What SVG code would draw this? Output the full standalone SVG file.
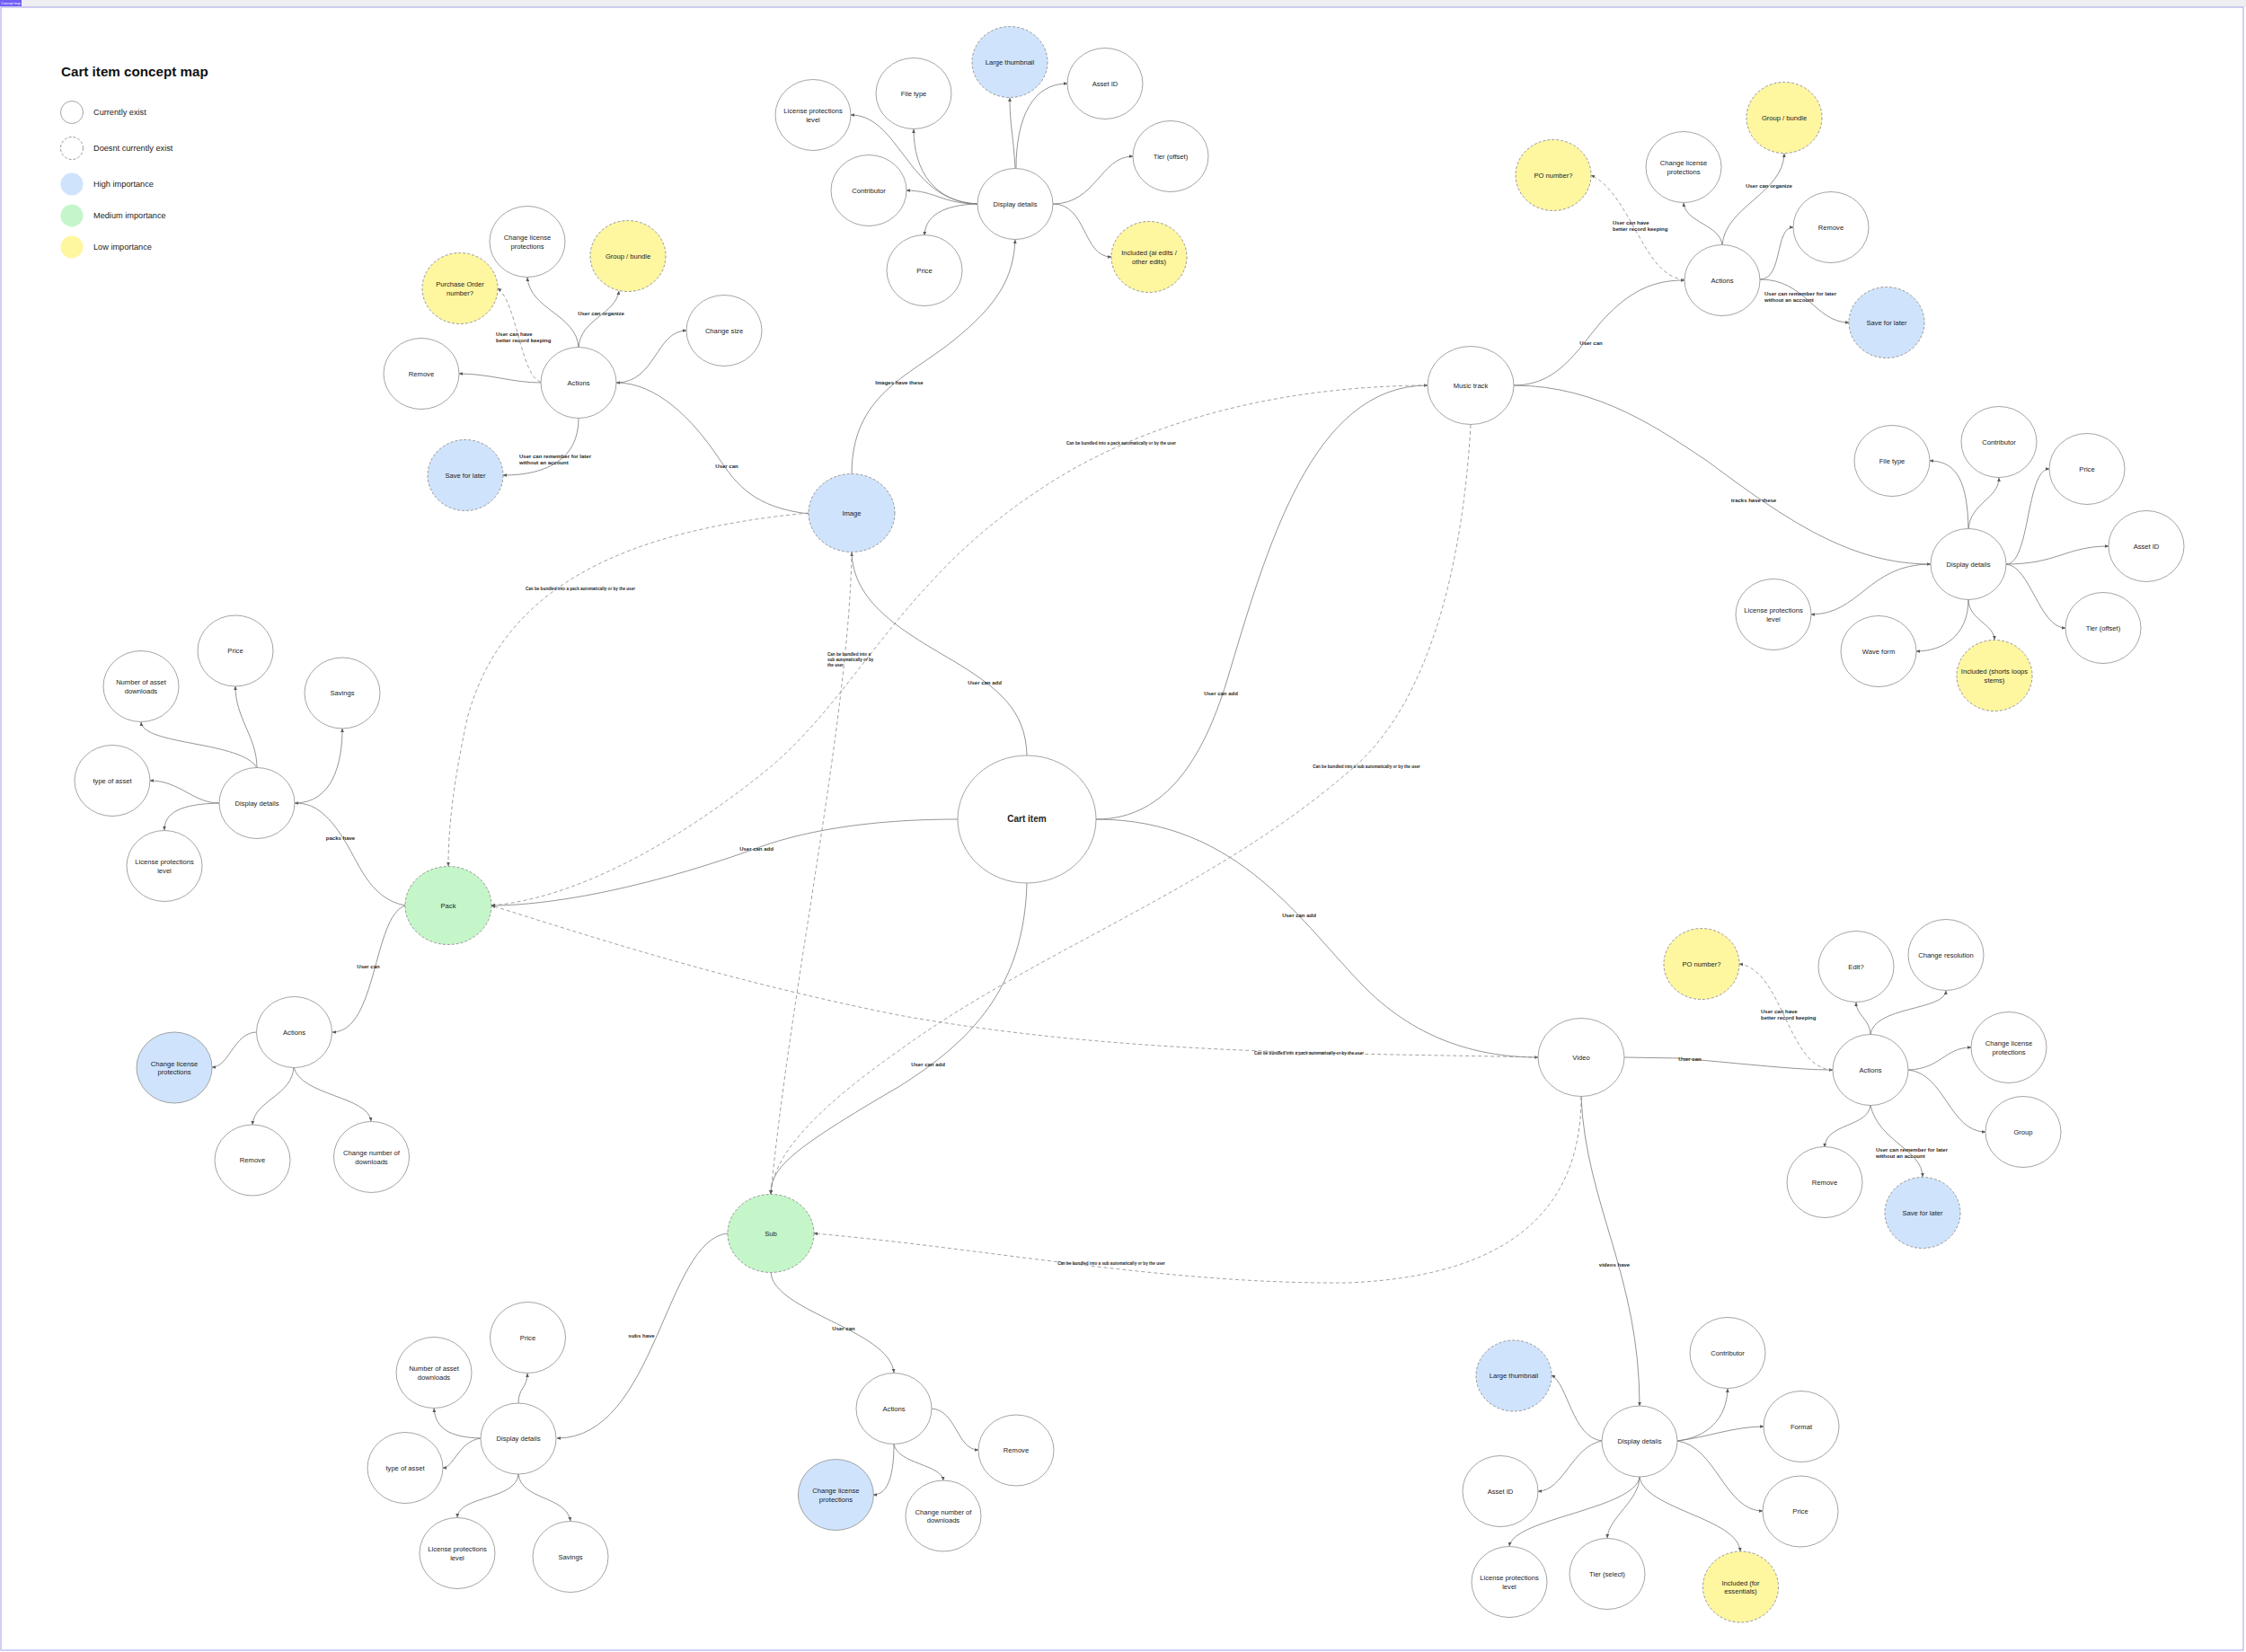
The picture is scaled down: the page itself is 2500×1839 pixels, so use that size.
<svg xmlns="http://www.w3.org/2000/svg" width="2500" height="1839" viewBox="0 0 2500 1839">
<defs>
<marker id="a" viewBox="0 0 6 6" refX="5.6" refY="3" markerWidth="4.5" markerHeight="4.5" orient="auto" markerUnits="userSpaceOnUse"><path d="M0,0.4 L6,3 L0,5.6 z" fill="#5a5a5a"/></marker>
<style>
.n{fill:#fff;stroke:#9a9a9a;stroke-width:0.9}
.d{stroke:#8c8c8c;stroke-dasharray:3 2}
.hi{fill:#cfe3fc}
.med{fill:#c5f6c9}
.low{fill:#fff6a0}
.t{font-family:"Liberation Sans",Arial,sans-serif;font-size:7.6px;fill:#222;text-anchor:middle;dominant-baseline:central}
.big{font-size:10px;font-weight:bold}
.e{fill:none;stroke:#7a7a7a;stroke-width:0.8;marker-end:url(#a)}
.ed{stroke-dasharray:4 3;stroke:#8a8a8a}
.l{font-family:"Liberation Sans",Arial,sans-serif;font-size:6px;font-weight:bold;fill:#2a2a2a;dominant-baseline:central}
.c{text-anchor:middle}
.s{font-size:4.6px}
.lg{font-family:"Liberation Sans",Arial,sans-serif;font-size:9.2px;fill:#222;dominant-baseline:central}
</style>
</defs>
<rect x="0" y="0" width="2500" height="1839" fill="#fff"/>
<rect x="0" y="0" width="2500" height="8" fill="#efeff2"/>
<rect x="1" y="8" width="2496" height="1829" fill="#fff" stroke="#a3a3e8" stroke-width="1"/>
<rect x="0" y="0" width="24" height="7" fill="#6e5ef4"/>
<text x="12" y="4" font-family="Liberation Sans, Arial, sans-serif" font-size="3.6" fill="#fff" text-anchor="middle" dominant-baseline="central">Concept map</text>

<g id="legend">
<text x="68" y="85" font-family="Liberation Sans, Arial, sans-serif" font-size="15.2" font-weight="bold" fill="#111">Cart item concept map</text>
<circle cx="80" cy="125" r="12.5" class="n"/>
<text x="104" y="125" class="lg">Currently exist</text>
<circle cx="80" cy="165" r="12.5" class="n d"/>
<text x="104" y="165" class="lg">Doesnt currently exist</text>
<circle cx="80" cy="205" r="12.5" class="hi"/>
<text x="104" y="205" class="lg">High importance</text>
<circle cx="80" cy="240" r="12.5" class="med"/>
<text x="104" y="240" class="lg">Medium importance</text>
<circle cx="80" cy="275" r="12.5" class="low"/>
<text x="104" y="275" class="lg">Low importance</text>
</g>

<g id="connectors">
<!-- Cart item edges -->
<path class="e" d="M1143,841 C1142,790 1110,765 1060,735 C1000,700 950,670 948,615"/>
<path class="e" d="M1220,912 C1300,912 1340,840 1365,760 C1410,610 1460,429 1589,429"/>
<path class="e" d="M1066,912 C950,912 880,930 840,945 C700,995 600,1008 547,1008"/>
<path class="e" d="M1220,912 C1380,912 1450,1030 1520,1100 C1580,1160 1650,1177 1712,1177"/>
<path class="e" d="M1143,983 C1140,1100 1080,1160 1000,1210 C880,1280 858,1300 858,1329"/>
<!-- dashed bundle edges -->
<path class="e ed" d="M900,571 C700,590 560,650 520,800 C505,870 499,920 499,964"/>
<path class="e ed" d="M948,615 C945,800 880,1100 858,1329"/>
<path class="e ed" d="M1589,429 C1400,430 1250,480 1150,550 C1000,650 950,780 850,860 C750,940 640,1000 547,1008"/>
<path class="e ed" d="M1637,473 C1630,600 1600,780 1500,860 C1350,990 1150,1060 1000,1170 C900,1240 860,1290 858,1329"/>
<path class="e ed" d="M1712,1177 C1500,1172 1250,1175 1000,1130 C800,1090 650,1040 547,1008"/>
<path class="e ed" d="M1760,1221 C1760,1330 1700,1420 1500,1428 C1300,1430 1100,1390 906,1373"/>
<!-- Image -->
<path class="e" d="M948,528 C948,440 1010,420 1060,380 C1110,340 1128,310 1130,267"/>
<path class="e" d="M900,572 C840,565 820,540 800,510 C770,465 730,426 686,426"/>
<path class="e" d="M1130,187 C1128,150 1124,140 1124,109"/>
<path class="e" d="M1131,187 C1131,130 1150,93 1188,93"/>
<path class="e" d="M1088,227 C1040,225 1020,190 1000,165 C985,145 970,128 947,128"/>
<path class="e" d="M1088,227 C1040,225 1017,190 1017,144"/>
<path class="e" d="M1088,227 C1050,227 1040,212 1009,212"/>
<path class="e" d="M1088,227 C1050,228 1030,240 1029,262"/>
<path class="e" d="M1172,227 C1220,227 1225,174 1261,174"/>
<path class="e" d="M1172,227 C1210,227 1205,286 1237,286"/>
<path class="e" d="M644,387 C642,350 590,345 587,309"/>
<path class="e" d="M644,387 C646,355 685,350 689,324"/>
<path class="e ed" d="M602,425 C580,420 575,335 554,321"/>
<path class="e" d="M602,426 C570,426 545,416 511,416"/>
<path class="e" d="M686,426 C730,426 730,368 764,368"/>
<path class="e" d="M644,466 C644,510 610,529 560,529"/>
<!-- Music -->
<path class="e" d="M1685,429 C1740,429 1760,380 1790,350 C1820,320 1845,312 1875,312"/>
<path class="e" d="M1685,429 C1780,429 1850,480 1900,513 C1990,580 2060,628 2149,628"/>
<path class="e ed" d="M1875,311 C1830,310 1815,215 1771,195"/>
<path class="e" d="M1917,273 C1915,250 1876,248 1874,226"/>
<path class="e" d="M1917,273 C1920,230 1985,215 1986,171"/>
<path class="e" d="M1959,311 C1985,311 1975,253 1996,253"/>
<path class="e" d="M1959,311 C2010,311 2020,359 2058,359"/>
<path class="e" d="M2191,589 C2190,540 2180,513 2148,513"/>
<path class="e" d="M2191,589 C2193,560 2225,555 2225,532"/>
<path class="e" d="M2233,628 C2260,628 2255,522 2281,522"/>
<path class="e" d="M2233,628 C2290,628 2300,608 2347,608"/>
<path class="e" d="M2233,628 C2260,630 2270,699 2299,699"/>
<path class="e" d="M2149,628 C2080,628 2070,684 2016,684"/>
<path class="e" d="M2191,667 C2191,710 2160,725 2133,725"/>
<path class="e" d="M2191,667 C2191,690 2220,695 2220,712"/>
<!-- Pack -->
<path class="e" d="M451,1008 C410,1000 400,960 380,930 C360,900 345,894 328,894"/>
<path class="e" d="M451,1008 C415,1020 420,1149 370,1149"/>
<path class="e" d="M286,855 C286,820 262,800 262,764"/>
<path class="e" d="M286,855 C270,825 160,830 157,804"/>
<path class="e" d="M244,894 C215,894 200,869 167,869"/>
<path class="e" d="M244,894 C200,895 183,905 183,924"/>
<path class="e" d="M328,894 C370,894 381,850 381,811"/>
<path class="e" d="M285,1149 C260,1150 255,1188 236,1188"/>
<path class="e" d="M327,1188 C325,1220 283,1225 281,1252"/>
<path class="e" d="M327,1188 C335,1220 410,1220 413,1248"/>
<!-- Sub -->
<path class="e" d="M810,1373 C740,1380 730,1601 620,1601"/>
<path class="e" d="M858,1416 C860,1460 990,1480 995,1528"/>
<path class="e" d="M577,1562 C577,1545 587,1545 587,1529"/>
<path class="e" d="M535,1601 C500,1600 485,1590 483,1568"/>
<path class="e" d="M535,1601 C510,1605 505,1634 493,1634"/>
<path class="e" d="M577,1641 C575,1670 510,1665 509,1689"/>
<path class="e" d="M577,1641 C580,1670 630,1665 635,1693"/>
<path class="e" d="M995,1608 C995,1650 985,1664 972,1664"/>
<path class="e" d="M995,1608 C1000,1630 1048,1630 1050,1648"/>
<path class="e" d="M1037,1568 C1065,1570 1065,1614 1089,1614"/>
<!-- Video -->
<path class="e" d="M1808,1177 L1870,1178 C1950,1185 2000,1191 2040,1191"/>
<path class="e" d="M1760,1221 C1765,1340 1825,1420 1825,1565"/>
<path class="e ed" d="M2040,1191 C1990,1190 1985,1080 1936,1073"/>
<path class="e" d="M2082,1152 C2082,1135 2066,1130 2066,1116"/>
<path class="e" d="M2082,1152 C2085,1120 2165,1125 2166,1103"/>
<path class="e" d="M2124,1191 C2160,1190 2165,1166 2194,1166"/>
<path class="e" d="M2124,1191 C2165,1195 2170,1260 2210,1260"/>
<path class="e" d="M2082,1230 C2080,1255 2032,1250 2031,1277"/>
<path class="e" d="M2082,1230 C2090,1270 2140,1280 2140,1310"/>
<path class="e" d="M1783,1604 C1750,1600 1745,1540 1727,1531"/>
<path class="e" d="M1783,1604 C1750,1610 1740,1660 1712,1660"/>
<path class="e" d="M1867,1604 C1900,1600 1922,1580 1923,1546"/>
<path class="e" d="M1867,1604 C1900,1600 1930,1588 1963,1588"/>
<path class="e" d="M1867,1604 C1910,1610 1920,1682 1962,1682"/>
<path class="e" d="M1825,1644 C1820,1680 1685,1690 1680,1721"/>
<path class="e" d="M1825,1644 C1825,1670 1790,1690 1789,1712"/>
<path class="e" d="M1825,1644 C1830,1680 1935,1690 1937,1727"/>
</g>

<g id="edge-labels">
<text class="l c" x="1001" y="426">Images have these</text>
<text class="l c" x="809" y="519">User can</text>
<text class="l c" x="669" y="349">User can organize</text>
<text class="l" x="552" y="372">User can have<tspan x="552" dy="7.4">better record keeping</tspan></text>
<text class="l" x="578" y="508">User can remember for later<tspan x="578" dy="7.4">without an account</tspan></text>
<text class="l c s" x="646" y="655">Can be bundled into a pack automatically or by the user</text>
<text class="l s" x="921" y="728">Can be bundled into a<tspan x="921" dy="5.8">sub  automatically or by</tspan><tspan x="921" dy="5.8">the user</tspan></text>
<text class="l c" x="1096" y="760">User can add</text>
<text class="l c" x="1359" y="772">User can add</text>
<text class="l c s" x="1248" y="493">Can be bundled into a pack automatically or by the user</text>
<text class="l c s" x="1521" y="853">Can be bundled into a sub  automatically or by the user</text>
<text class="l c" x="842" y="945">User can add</text>
<text class="l c" x="1446" y="1019">User can add</text>
<text class="l c" x="1033" y="1185">User can add</text>
<text class="l c s" x="1457" y="1172">Can be bundled into a pack automatically or by the user</text>
<text class="l c s" x="1237" y="1406">Can be bundled into a sub  automatically or by the user</text>
<text class="l c" x="379" y="933">packs have</text>
<text class="l c" x="410" y="1076">User can</text>
<text class="l c" x="714" y="1487">subs have</text>
<text class="l c" x="939" y="1479">User can</text>
<text class="l c" x="1771" y="382">User can</text>
<text class="l" x="1795" y="248">User can have<tspan x="1795" dy="7.4">better record keeping</tspan></text>
<text class="l c" x="1969" y="207">User can organize</text>
<text class="l" x="1964" y="327">User can remember for later<tspan x="1964" dy="7.4">without an account</tspan></text>
<text class="l c" x="1952" y="557">tracks have these</text>
<text class="l c" x="1881" y="1179">User can</text>
<text class="l" x="1960" y="1126">User can have<tspan x="1960" dy="7.4">better record keeping</tspan></text>
<text class="l" x="2088" y="1280">User can remember for later<tspan x="2088" dy="7.4">without an account</tspan></text>
<text class="l c" x="1797" y="1408">videos have</text>
</g>

<!-- Core nodes -->
<g id="cart-item"><ellipse cx="1143" cy="912" rx="77" ry="71" class="n"/><text x="1143" y="911" class="t big">Cart item</text></g>
<g id="image"><ellipse cx="948" cy="571" rx="48" ry="43.5" class="n d hi"/><text x="948" y="571" class="t">Image</text></g>
<g id="music-track"><ellipse cx="1637" cy="429" rx="48" ry="43.5" class="n"/><text x="1637" y="429" class="t">Music track</text></g>
<g id="pack"><ellipse cx="499" cy="1008" rx="48" ry="43.5" class="n d med"/><text x="499" y="1008" class="t">Pack</text></g>
<g id="sub"><ellipse cx="858" cy="1373" rx="48" ry="43.5" class="n d med"/><text x="858" y="1373" class="t">Sub</text></g>
<g id="video"><ellipse cx="1760" cy="1177" rx="48" ry="43.5" class="n"/><text x="1760" y="1177" class="t">Video</text></g>

<!-- Image display details -->
<g id="img-dd"><ellipse cx="1130" cy="227" rx="42" ry="39.5" class="n"/><text x="1130" y="227" class="t">Display details</text></g>
<g id="img-thumb"><ellipse cx="1124" cy="69" rx="42" ry="39.5" class="n d hi"/><text x="1124" y="69" class="t">Large thumbnail</text></g>
<g id="img-assetid"><ellipse cx="1230" cy="93" rx="42" ry="39.5" class="n"/><text x="1230" y="93" class="t">Asset ID</text></g>
<g id="img-filetype"><ellipse cx="1017" cy="104" rx="42" ry="39.5" class="n"/><text x="1017" y="104" class="t">File type</text></g>
<g id="img-lpl"><ellipse cx="905" cy="128" rx="42" ry="39.5" class="n"/><text x="905" y="123.5" class="t">License protections<tspan x="905" dy="9.3">level</tspan></text></g>
<g id="img-tier"><ellipse cx="1303" cy="174" rx="42" ry="39.5" class="n"/><text x="1303" y="174" class="t">Tier (offset)</text></g>
<g id="img-contrib"><ellipse cx="967" cy="212" rx="42" ry="39.5" class="n"/><text x="967" y="212" class="t">Contributor</text></g>
<g id="img-price"><ellipse cx="1029" cy="301" rx="42" ry="39.5" class="n"/><text x="1029" y="301" class="t">Price</text></g>
<g id="img-included"><ellipse cx="1279" cy="286" rx="42" ry="39.5" class="n d low"/><text x="1279" y="281.5" class="t">Included (ai edits /<tspan x="1279" dy="9.3">other edits)</tspan></text></g>

<!-- Image actions -->
<g id="img-actions"><ellipse cx="644" cy="426" rx="42" ry="39.5" class="n"/><text x="644" y="426" class="t">Actions</text></g>
<g id="img-cl"><ellipse cx="587" cy="269" rx="42" ry="39.5" class="n"/><text x="587" y="264.5" class="t">Change license<tspan x="587" dy="9.3">protections</tspan></text></g>
<g id="img-group"><ellipse cx="699" cy="285" rx="42" ry="39.5" class="n d low"/><text x="699" y="285" class="t">Group / bundle</text></g>
<g id="img-po"><ellipse cx="512" cy="321" rx="42" ry="39.5" class="n d low"/><text x="512" y="316.5" class="t">Purchase Order<tspan x="512" dy="9.3">number?</tspan></text></g>
<g id="img-size"><ellipse cx="806" cy="368" rx="42" ry="39.5" class="n"/><text x="806" y="368" class="t">Change size</text></g>
<g id="img-remove"><ellipse cx="469" cy="416" rx="42" ry="39.5" class="n"/><text x="469" y="416" class="t">Remove</text></g>
<g id="img-save"><ellipse cx="518" cy="529" rx="42" ry="39.5" class="n d hi"/><text x="518" y="529" class="t">Save for later</text></g>

<!-- Music actions -->
<g id="mus-actions"><ellipse cx="1917" cy="312" rx="42" ry="39.5" class="n"/><text x="1917" y="312" class="t">Actions</text></g>
<g id="mus-po"><ellipse cx="1729" cy="195" rx="42" ry="39.5" class="n d low"/><text x="1729" y="195" class="t">PO number?</text></g>
<g id="mus-cl"><ellipse cx="1874" cy="186" rx="42" ry="39.5" class="n"/><text x="1874" y="181.5" class="t">Change license<tspan x="1874" dy="9.3">protections</tspan></text></g>
<g id="mus-group"><ellipse cx="1986" cy="131" rx="42" ry="39.5" class="n d low"/><text x="1986" y="131" class="t">Group / bundle</text></g>
<g id="mus-remove"><ellipse cx="2038" cy="253" rx="42" ry="39.5" class="n"/><text x="2038" y="253" class="t">Remove</text></g>
<g id="mus-save"><ellipse cx="2100" cy="359" rx="42" ry="39.5" class="n d hi"/><text x="2100" y="359" class="t">Save for later</text></g>

<!-- Music display details -->
<g id="mus-dd"><ellipse cx="2191" cy="628" rx="42" ry="39.5" class="n"/><text x="2191" y="628" class="t">Display details</text></g>
<g id="mus-filetype"><ellipse cx="2106" cy="513" rx="42" ry="39.5" class="n"/><text x="2106" y="513" class="t">File type</text></g>
<g id="mus-contrib"><ellipse cx="2225" cy="492" rx="42" ry="39.5" class="n"/><text x="2225" y="492" class="t">Contributor</text></g>
<g id="mus-price"><ellipse cx="2323" cy="522" rx="42" ry="39.5" class="n"/><text x="2323" y="522" class="t">Price</text></g>
<g id="mus-assetid"><ellipse cx="2389" cy="608" rx="42" ry="39.5" class="n"/><text x="2389" y="608" class="t">Asset ID</text></g>
<g id="mus-lpl"><ellipse cx="1974" cy="684" rx="42" ry="39.5" class="n"/><text x="1974" y="679.5" class="t">License protections<tspan x="1974" dy="9.3">level</tspan></text></g>
<g id="mus-tier"><ellipse cx="2341" cy="699" rx="42" ry="39.5" class="n"/><text x="2341" y="699" class="t">Tier (offset)</text></g>
<g id="mus-wave"><ellipse cx="2091" cy="725" rx="42" ry="39.5" class="n"/><text x="2091" y="725" class="t">Wave form</text></g>
<g id="mus-included"><ellipse cx="2220" cy="752" rx="42" ry="39.5" class="n d low"/><text x="2220" y="747.5" class="t">Included (shorts loops<tspan x="2220" dy="9.3">stems)</tspan></text></g>

<!-- Pack display details -->
<g id="pack-dd"><ellipse cx="286" cy="894" rx="42" ry="39.5" class="n"/><text x="286" y="894" class="t">Display details</text></g>
<g id="pack-price"><ellipse cx="262" cy="724.5" rx="42" ry="39.5" class="n"/><text x="262" y="724.5" class="t">Price</text></g>
<g id="pack-nad"><ellipse cx="157" cy="764" rx="42" ry="39.5" class="n"/><text x="157" y="759.5" class="t">Number of asset<tspan x="157" dy="9.3">downloads</tspan></text></g>
<g id="pack-savings"><ellipse cx="381" cy="771.5" rx="42" ry="39.5" class="n"/><text x="381" y="771.5" class="t">Savings</text></g>
<g id="pack-type"><ellipse cx="125" cy="869" rx="42" ry="39.5" class="n"/><text x="125" y="869" class="t">type of asset</text></g>
<g id="pack-lpl"><ellipse cx="183" cy="964" rx="42" ry="39.5" class="n"/><text x="183" y="959.5" class="t">License protections<tspan x="183" dy="9.3">level</tspan></text></g>

<!-- Pack actions -->
<g id="pack-actions"><ellipse cx="327.5" cy="1149" rx="42" ry="39.5" class="n"/><text x="327.5" y="1149" class="t">Actions</text></g>
<g id="pack-cl"><ellipse cx="194" cy="1188.5" rx="42" ry="39.5" class="n hi"/><text x="194" y="1184" class="t">Change license<tspan x="194" dy="9.3">protections</tspan></text></g>
<g id="pack-remove"><ellipse cx="281" cy="1291.5" rx="42" ry="39.5" class="n"/><text x="281" y="1291.5" class="t">Remove</text></g>
<g id="pack-cnd"><ellipse cx="413.5" cy="1288" rx="42" ry="39.5" class="n"/><text x="413.5" y="1283.5" class="t">Change number of<tspan x="413.5" dy="9.3">downloads</tspan></text></g>

<!-- Sub display details -->
<g id="sub-dd"><ellipse cx="577" cy="1601.5" rx="42" ry="39.5" class="n"/><text x="577" y="1601.5" class="t">Display details</text></g>
<g id="sub-price"><ellipse cx="587.5" cy="1489" rx="42" ry="39.5" class="n"/><text x="587.5" y="1489" class="t">Price</text></g>
<g id="sub-nad"><ellipse cx="483" cy="1528" rx="42" ry="39.5" class="n"/><text x="483" y="1523.5" class="t">Number of asset<tspan x="483" dy="9.3">downloads</tspan></text></g>
<g id="sub-type"><ellipse cx="451" cy="1634" rx="42" ry="39.5" class="n"/><text x="451" y="1634" class="t">type of asset</text></g>
<g id="sub-lpl"><ellipse cx="509" cy="1729" rx="42" ry="39.5" class="n"/><text x="509" y="1724.5" class="t">License protections<tspan x="509" dy="9.3">level</tspan></text></g>
<g id="sub-savings"><ellipse cx="635" cy="1733" rx="42" ry="39.5" class="n"/><text x="635" y="1733" class="t">Savings</text></g>

<!-- Sub actions -->
<g id="sub-actions"><ellipse cx="995" cy="1568" rx="42" ry="39.5" class="n"/><text x="995" y="1568" class="t">Actions</text></g>
<g id="sub-remove"><ellipse cx="1131" cy="1614.5" rx="42" ry="39.5" class="n"/><text x="1131" y="1614.5" class="t">Remove</text></g>
<g id="sub-cl"><ellipse cx="930.4" cy="1664" rx="42" ry="39.5" class="n hi"/><text x="930.4" y="1659.5" class="t">Change license<tspan x="930.4" dy="9.3">protections</tspan></text></g>
<g id="sub-cnd"><ellipse cx="1050" cy="1687.5" rx="42" ry="39.5" class="n"/><text x="1050" y="1683" class="t">Change number of<tspan x="1050" dy="9.3">downloads</tspan></text></g>

<!-- Video actions -->
<g id="vid-actions"><ellipse cx="2082" cy="1191" rx="42" ry="39.5" class="n"/><text x="2082" y="1191" class="t">Actions</text></g>
<g id="vid-po"><ellipse cx="1894" cy="1073" rx="42" ry="39.5" class="n d low"/><text x="1894" y="1073" class="t">PO number?</text></g>
<g id="vid-edit"><ellipse cx="2066" cy="1076" rx="42" ry="39.5" class="n"/><text x="2066" y="1076" class="t">Edit?</text></g>
<g id="vid-res"><ellipse cx="2166" cy="1063" rx="42" ry="39.5" class="n"/><text x="2166" y="1063" class="t">Change resolution</text></g>
<g id="vid-cl"><ellipse cx="2236" cy="1166" rx="42" ry="39.5" class="n"/><text x="2236" y="1161.5" class="t">Change license<tspan x="2236" dy="9.3">protections</tspan></text></g>
<g id="vid-group"><ellipse cx="2252" cy="1260" rx="42" ry="39.5" class="n"/><text x="2252" y="1260" class="t">Group</text></g>
<g id="vid-remove"><ellipse cx="2031" cy="1316" rx="42" ry="39.5" class="n"/><text x="2031" y="1316" class="t">Remove</text></g>
<g id="vid-save"><ellipse cx="2140" cy="1350" rx="42" ry="39.5" class="n d hi"/><text x="2140" y="1350" class="t">Save for later</text></g>

<!-- Video display details -->
<g id="vid-dd"><ellipse cx="1825" cy="1604.5" rx="42" ry="39.5" class="n"/><text x="1825" y="1604.5" class="t">Display details</text></g>
<g id="vid-thumb"><ellipse cx="1685" cy="1531.5" rx="42" ry="39.5" class="n d hi"/><text x="1685" y="1531.5" class="t">Large thumbnail</text></g>
<g id="vid-contrib"><ellipse cx="1923" cy="1506" rx="42" ry="39.5" class="n"/><text x="1923" y="1506" class="t">Contributor</text></g>
<g id="vid-format"><ellipse cx="2005" cy="1588" rx="42" ry="39.5" class="n"/><text x="2005" y="1588" class="t">Format</text></g>
<g id="vid-assetid"><ellipse cx="1670" cy="1660" rx="42" ry="39.5" class="n"/><text x="1670" y="1660" class="t">Asset ID</text></g>
<g id="vid-price"><ellipse cx="2004" cy="1682.5" rx="42" ry="39.5" class="n"/><text x="2004" y="1682.5" class="t">Price</text></g>
<g id="vid-lpl"><ellipse cx="1680" cy="1761" rx="42" ry="39.5" class="n"/><text x="1680" y="1756.5" class="t">License protections<tspan x="1680" dy="9.3">level</tspan></text></g>
<g id="vid-tier"><ellipse cx="1789" cy="1752" rx="42" ry="39.5" class="n"/><text x="1789" y="1752" class="t">Tier (select)</text></g>
<g id="vid-included"><ellipse cx="1937.5" cy="1766.5" rx="42" ry="39.5" class="n d low"/><text x="1937.5" y="1762" class="t">Included (for<tspan x="1937.5" dy="9.3">essentials)</tspan></text></g>
</svg>
